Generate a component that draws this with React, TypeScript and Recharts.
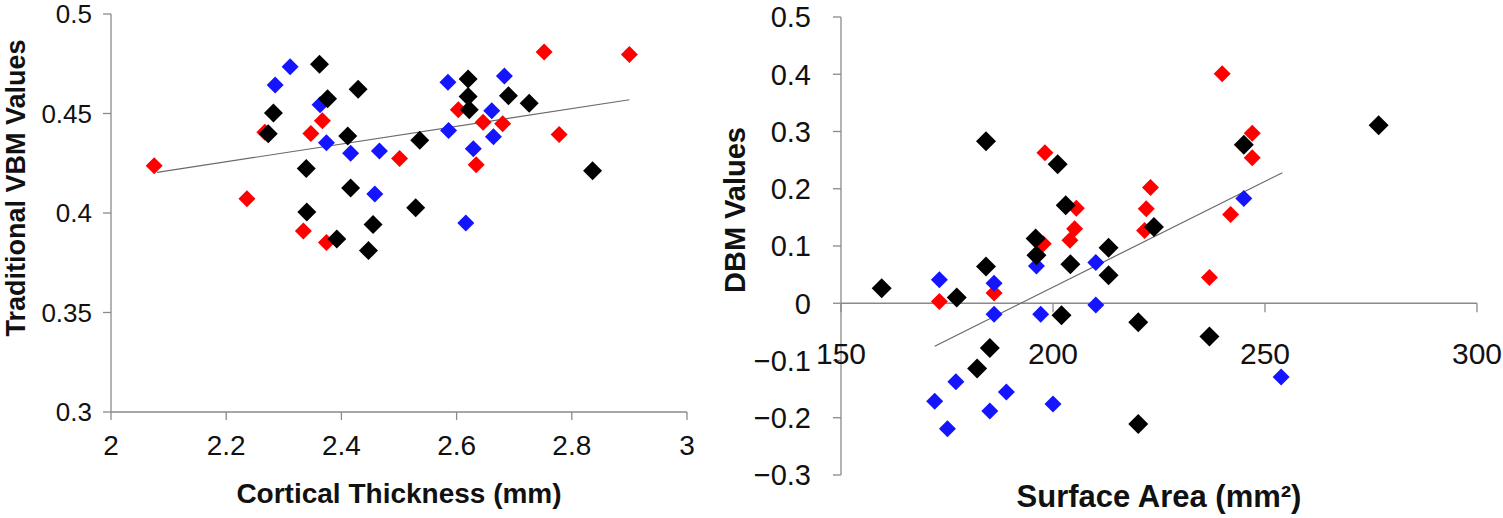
import { ScatterChart, Scatter, XAxis, YAxis, ReferenceLine } from "recharts";

const FONT = '"Liberation Sans", Arial, sans-serif';
const AXIS = "#8a8a8a";
const RED = "#ff0000";
const BLUE = "#1414ff";
const BLACK = "#000000";

// left panel: cortical thickness (mm) vs traditional VBM values
const ctRed = [
  { x: 2.075, y: 0.4237 }, { x: 2.236, y: 0.4071 }, { x: 2.267, y: 0.4406 },
  { x: 2.347, y: 0.44 }, { x: 2.367, y: 0.4464 }, { x: 2.501, y: 0.4274 },
  { x: 2.334, y: 0.391 }, { x: 2.374, y: 0.3852 }, { x: 2.603, y: 0.4519 },
  { x: 2.646, y: 0.4456 }, { x: 2.634, y: 0.4242 }, { x: 2.68, y: 0.4449 },
  { x: 2.752, y: 0.4809 }, { x: 2.9, y: 0.4796 }, { x: 2.778, y: 0.4395 },
];
const ctBlue = [
  { x: 2.311, y: 0.4735 }, { x: 2.285, y: 0.4643 }, { x: 2.363, y: 0.4544 },
  { x: 2.374, y: 0.4353 }, { x: 2.416, y: 0.43 }, { x: 2.466, y: 0.4312 },
  { x: 2.458, y: 0.4096 }, { x: 2.585, y: 0.4657 }, { x: 2.586, y: 0.4414 },
  { x: 2.661, y: 0.4514 }, { x: 2.664, y: 0.4383 }, { x: 2.629, y: 0.4323 },
  { x: 2.616, y: 0.395 }, { x: 2.683, y: 0.4688 },
];
const ctBlack = [
  { x: 2.362, y: 0.4748 }, { x: 2.429, y: 0.4622 }, { x: 2.376, y: 0.4574 },
  { x: 2.282, y: 0.4502 }, { x: 2.273, y: 0.4398 }, { x: 2.411, y: 0.4387 },
  { x: 2.536, y: 0.4365 }, { x: 2.339, y: 0.4224 }, { x: 2.416, y: 0.4126 },
  { x: 2.529, y: 0.4026 }, { x: 2.34, y: 0.4005 }, { x: 2.455, y: 0.3942 },
  { x: 2.392, y: 0.3869 }, { x: 2.447, y: 0.3811 }, { x: 2.62, y: 0.4673 },
  { x: 2.62, y: 0.4585 }, { x: 2.622, y: 0.4519 }, { x: 2.69, y: 0.4589 },
  { x: 2.726, y: 0.4552 }, { x: 2.836, y: 0.4212 },
];
const ctTrend = [{ x: 2.08, y: 0.4204 }, { x: 2.9, y: 0.4569 }];
const ctXTicks = [2, 2.2, 2.4, 2.6, 2.8, 3];
const ctYTicks = [0.3, 0.35, 0.4, 0.45, 0.5];

// right panel: surface area (mm2) vs DBM values
const saRed = [
  { x: 198.1, y: 0.263 }, { x: 205.5, y: 0.166 }, { x: 205.1, y: 0.13 },
  { x: 204.0, y: 0.11 }, { x: 197.7, y: 0.104 }, { x: 223.0, y: 0.202 },
  { x: 222.0, y: 0.165 }, { x: 221.6, y: 0.127 }, { x: 186.1, y: 0.018 },
  { x: 173.2, y: 0.003 }, { x: 239.9, y: 0.401 }, { x: 247.0, y: 0.297 },
  { x: 247.0, y: 0.254 }, { x: 241.9, y: 0.155 }, { x: 236.9, y: 0.045 },
];
const saBlue = [
  { x: 173.2, y: 0.041 }, { x: 186.1, y: 0.035 }, { x: 196.1, y: 0.065 },
  { x: 210.1, y: 0.071 }, { x: 210.1, y: -0.003 }, { x: 186.1, y: -0.019 },
  { x: 197.1, y: -0.019 }, { x: 177.1, y: -0.137 }, { x: 172.1, y: -0.171 },
  { x: 185.1, y: -0.188 }, { x: 189.0, y: -0.155 }, { x: 200.0, y: -0.176 },
  { x: 175.1, y: -0.219 }, { x: 245.0, y: 0.183 }, { x: 253.8, y: -0.129 },
];
const saBlack = [
  { x: 184.2, y: 0.283 }, { x: 201.1, y: 0.243 }, { x: 203.0, y: 0.171 },
  { x: 195.9, y: 0.113 }, { x: 196.1, y: 0.084 }, { x: 204.1, y: 0.068 },
  { x: 184.2, y: 0.064 }, { x: 213.1, y: 0.097 }, { x: 213.1, y: 0.049 },
  { x: 177.3, y: 0.01 }, { x: 223.8, y: 0.133 }, { x: 159.6, y: 0.026 },
  { x: 202.0, y: -0.021 }, { x: 220.1, y: -0.033 }, { x: 185.1, y: -0.078 },
  { x: 182.1, y: -0.114 }, { x: 220.1, y: -0.211 }, { x: 276.8, y: 0.311 },
  { x: 245.0, y: 0.277 }, { x: 236.9, y: -0.058 },
];
const saTrend = [{ x: 172.1, y: -0.075 }, { x: 254.1, y: 0.228 }];
const saXTicks = [150, 200, 250, 300];
const saYTicks = [-0.3, -0.2, -0.1, 0, 0.1, 0.2, 0.3, 0.4, 0.5];

const diamond = (r: number) => (props: any) => {
  const { cx, cy, fill } = props;
  return (
    <polygon
      points={`${cx},${cy - r} ${cx + r},${cy} ${cx},${cy + r} ${cx - r},${cy}`}
      fill={fill}
    />
  );
};

const fmtMinus = (v: number) => (v < 0 ? `\u2212${Math.abs(v)}` : `${v}`);

// right panel layout
const R_H = 518;
const R_MARGIN = { top: 17, right: 26, bottom: 3, left: 51 };
const R_XAXIS_H = 40;
const R_PLOT_H = R_H - R_MARGIN.top - R_MARGIN.bottom - R_XAXIS_H;
const R_YDOMAIN: [number, number] = [-0.3, 0.5];

function ZeroAxisTick(props: any) {
  const { x, y, payload } = props;
  // the x axis crosses the y axis at 0
  const y0 = y - (R_PLOT_H * (0 - R_YDOMAIN[0])) / (R_YDOMAIN[1] - R_YDOMAIN[0]);
  return (
    <g>
      <line x1={x} x2={x} y1={y0} y2={y0 + 9} stroke={AXIS} strokeWidth={1.3} />
      <text
        x={x}
        y={y0 + 50}
        textAnchor="middle"
        dominantBaseline="central"
        fontFamily={FONT}
        fontSize={30}
        fill="#111"
      >
        {payload.value}
      </text>
    </g>
  );
}

export default function App() {
  return (
    <div style={{ position: "absolute", left: 0, top: 0, width: 1503, height: 518, background: "#fff" }}>
      <div style={{ position: "absolute", left: 0, top: 0 }}>
        <ScatterChart width={700} height={518} margin={{ top: 14, right: 13, bottom: 46, left: 31 }}>
          <XAxis
            type="number"
            dataKey="x"
            domain={[2, 3]}
            ticks={ctXTicks}
            interval={0}
            height={60}
            stroke={AXIS}
            strokeWidth={1.3}
            tickSize={8}
            tickMargin={15}
            tick={{ fontFamily: FONT, fontSize: 28, fill: "#111" }}
            label={(p: any) => (
              <text
                x={p.viewBox.x + p.viewBox.width / 2}
                y={p.viewBox.y + 81}
                textAnchor="middle"
                dominantBaseline="central"
                fontFamily={FONT}
                fontWeight="bold"
                fontSize={28}
                fill="#111"
              >
                Cortical Thickness (mm)
              </text>
            )}
          />
          <YAxis
            type="number"
            dataKey="y"
            domain={[0.3, 0.5]}
            ticks={ctYTicks}
            interval={0}
            width={80}
            stroke={AXIS}
            strokeWidth={1.3}
            tickSize={8}
            tickMargin={11}
            tick={{ fontFamily: FONT, fontSize: 26, fill: "#111" }}
            label={(p: any) => {
              const cx = p.viewBox.x - 15;
              const cy = p.viewBox.y + p.viewBox.height / 2 - 25;
              return (
                <text
                  x={cx}
                  y={cy}
                  transform={`rotate(-90, ${cx}, ${cy})`}
                  textAnchor="middle"
                  dominantBaseline="central"
                  fontFamily={FONT}
                  fontWeight="bold"
                  fontSize={27}
                  fill="#111"
                >
                  Traditional VBM Values
                </text>
              );
            }}
          />
          <ReferenceLine segment={ctTrend} stroke="#6a6a6a" strokeWidth={1.2} />
          <Scatter data={ctRed} fill={RED} shape={diamond(8.5)} isAnimationActive={false} />
          <Scatter data={ctBlue} fill={BLUE} shape={diamond(8.5)} isAnimationActive={false} />
          <Scatter data={ctBlack} fill={BLACK} shape={diamond(9.5)} isAnimationActive={false} />
        </ScatterChart>
      </div>
      <div style={{ position: "absolute", left: 700, top: 0 }}>
        <ScatterChart width={803} height={R_H} margin={R_MARGIN}>
          <XAxis
            type="number"
            dataKey="x"
            domain={[150, 300]}
            ticks={saXTicks}
            interval={0}
            height={R_XAXIS_H}
            axisLine={false}
            tickLine={false}
            tickSize={0}
            tickMargin={0}
            tick={<ZeroAxisTick />}
            label={(p: any) => (
              <text
                x={p.viewBox.x + p.viewBox.width / 2}
                y={p.viewBox.y + 21}
                textAnchor="middle"
                dominantBaseline="central"
                fontFamily={FONT}
                fontWeight="bold"
                fontSize={31}
                fill="#111"
              >
                Surface Area (mm²)
              </text>
            )}
          />
          <YAxis
            type="number"
            dataKey="y"
            domain={R_YDOMAIN}
            ticks={saYTicks}
            interval={0}
            width={90}
            stroke={AXIS}
            strokeWidth={1.3}
            tickSize={8}
            tickMargin={22}
            tickFormatter={fmtMinus}
            tick={{ fontFamily: FONT, fontSize: 29, fill: "#111" }}
            label={(p: any) => {
              const cx = p.viewBox.x - 16;
              const cy = p.viewBox.y + p.viewBox.height / 2 - 36;
              return (
                <text
                  x={cx}
                  y={cy}
                  transform={`rotate(-90, ${cx}, ${cy})`}
                  textAnchor="middle"
                  dominantBaseline="central"
                  fontFamily={FONT}
                  fontWeight="bold"
                  fontSize={29}
                  fill="#111"
                >
                  DBM Values
                </text>
              );
            }}
          />
          <ReferenceLine y={0} stroke={AXIS} strokeWidth={1.5} />
          <ReferenceLine segment={saTrend} stroke="#6a6a6a" strokeWidth={1.2} />
          <Scatter data={saRed} fill={RED} shape={diamond(8.5)} isAnimationActive={false} />
          <Scatter data={saBlue} fill={BLUE} shape={diamond(8.5)} isAnimationActive={false} />
          <Scatter data={saBlack} fill={BLACK} shape={diamond(10)} isAnimationActive={false} />
        </ScatterChart>
      </div>
    </div>
  );
}
